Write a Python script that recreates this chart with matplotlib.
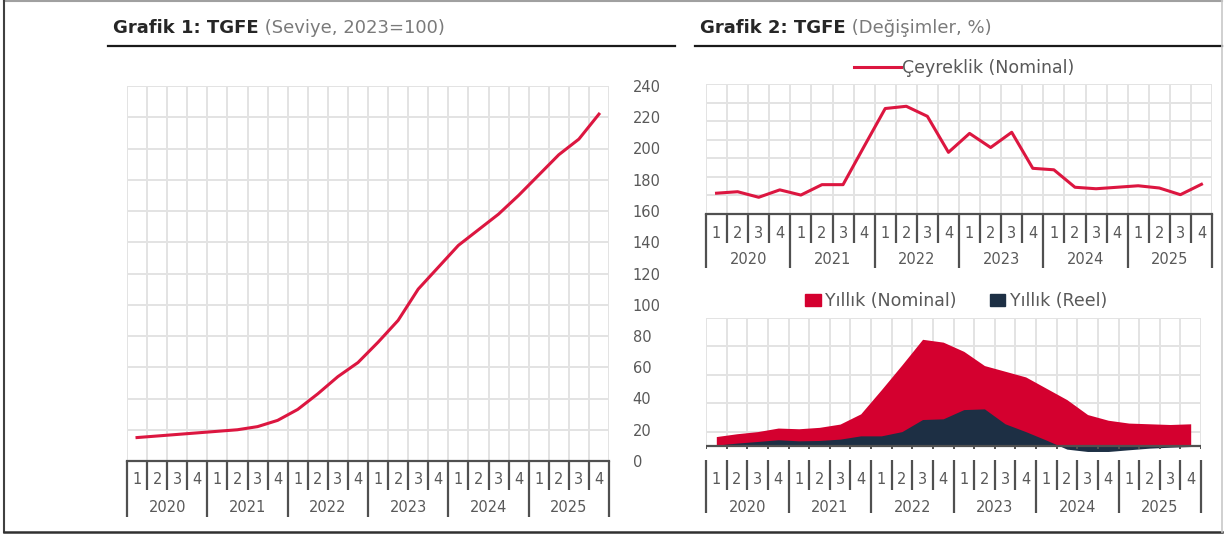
import numpy as np
import matplotlib
matplotlib.use("Agg")
import matplotlib.pyplot as plt
from matplotlib.lines import Line2D
from matplotlib.patches import Patch
from matplotlib.transforms import blended_transform_factory

plt.rcParams['font.family'] = ['DejaVu Sans']

# --- data ---
years = ['2020', '2021', '2022', '2023', '2024', '2025']
quarters = ['1', '2', '3', '4'] * len(years)

# TGFE level (2023=100)
level = [15, 16, 17, 18, 19, 20, 22, 26,
         33, 43, 54, 63, 76, 90, 110, 124,
         138, 148, 158, 170, 183, 196, 206, 222]

# quarterly change, nominal (%)
qoq_nominal = [5.6, 6.0, 4.5, 6.5, 5.1, 7.9, 7.9, 18.2,
               28.4, 29.0, 26.3, 16.6, 21.7, 17.9, 22.0, 12.3,
               11.9, 7.2, 6.8, 7.2, 7.6, 7.0, 5.2, 8.0]

# annual change (%)
yoy_nominal = [13, 17, 20, 25, 24, 26, 30.6, 45,
               79, 114, 150, 146, 133, 113, 105, 97,
               81, 65, 44, 36, 32, 31, 30, 31]
yoy_real = [1, 3.8, 6.1, 8.5, 7, 7.5, 9.4, 14,
            14, 20, 37, 38, 51, 52, 31, 20,
            8, -4.7, -8, -8, -5.6, -3.3, -2, -1]

W, H = 1225, 536
RED_LINE = '#dc1640'
RED = '#d4002f'
NAVY = '#1d2f44'
GRID = '#e3e3e3'
AXC = '#505050'
TXT = '#595959'
FS = 10.5

fig = plt.figure(figsize=(W / 100, H / 100), dpi=100)


def fx(px):
    return px / W


def fy(py):
    return 1 - py / H


def axes_box(x0, x1, ytop, ybot):
    return [fx(x0), fy(ybot), fx(x1) - fx(x0), fy(ytop) - fy(ybot)]


def category_axis(ax, y_start, q_end, y_end, q_lab, y_lab, fs=FS):
    tr = blended_transform_factory(ax.transData, fig.transFigure)
    n = len(quarters)
    for k in range(n + 1):
        xb = k - 0.5
        bottom = y_end if k % 4 == 0 else q_end
        ax.plot([xb, xb], [fy(y_start), fy(bottom)], transform=tr,
                color=AXC, lw=1.6, clip_on=False, solid_capstyle='butt')
    for i, q in enumerate(quarters):
        ax.text(i, fy(q_lab), q, transform=tr, ha='center', va='center',
                fontsize=fs, color=TXT)
    for j, yr in enumerate(years):
        ax.text(4 * j + 1.5, fy(y_lab), yr, transform=tr, ha='center',
                va='center', fontsize=fs, color=TXT)


def grid_cells(ax, ymin, ymax, hlines):
    n = len(quarters)
    ax.vlines(np.arange(n + 1) - 0.5, ymin, ymax, color=GRID, lw=1.4, zorder=0)
    ax.hlines(hlines, -0.5, n - 0.5, color=GRID, lw=1.4, zorder=0)


x = np.arange(len(quarters))

# --- Grafik 1 ---
ax1 = fig.add_axes(axes_box(127, 609, 86, 461))
grid_cells(ax1, 0, 240, np.arange(20, 241, 20))
ax1.plot(x, level, color=RED_LINE, lw=2.2, zorder=3)
ax1.set_xlim(-0.5, 23.5)
ax1.set_ylim(0, 240)
ax1.set_yticks(np.arange(0, 241, 20))
ax1.yaxis.tick_right()
ax1.tick_params(axis='y', length=0, pad=17, labelsize=FS, labelcolor=TXT)
ax1.set_xticks([])
for s in ['top', 'left', 'right']:
    ax1.spines[s].set_visible(False)
ax1.spines['bottom'].set_color(AXC)
ax1.spines['bottom'].set_linewidth(1.6)
category_axis(ax1, 461, 490, 517, 480, 507)

# --- Grafik 2, quarterly ---
ax2 = fig.add_axes(axes_box(706, 1212, 84, 214))
grid_cells(ax2, 0, 35, np.arange(5, 36, 5))
ax2.plot(x, qoq_nominal, color=RED_LINE, lw=2.2, zorder=3,
         label='Çeyreklik (Nominal)')
ax2.set_xlim(-0.5, 23.5)
ax2.set_ylim(0, 35)
ax2.set_xticks([])
ax2.set_yticks([])
for s in ['top', 'left', 'right']:
    ax2.spines[s].set_visible(False)
ax2.spines['bottom'].set_color(AXC)
ax2.spines['bottom'].set_linewidth(1.6)
category_axis(ax2, 214, 243, 268, 233, 260)
ax2.legend(loc='lower center', bbox_to_anchor=(0.51, 1.0), frameon=False,
           fontsize=12.5, handlelength=2.7, handletextpad=0.1,
           borderaxespad=0.0, labelcolor=TXT)

# --- Grafik 2, annual ---
ax3 = fig.add_axes(axes_box(706, 1201, 318, 460))
ax3.vlines(np.arange(len(quarters) + 1) - 0.5, 0, 180, color=GRID, lw=1.4,
           zorder=0)
ax3.hlines(np.arange(20, 181, 40), -0.5, 23.5, color=GRID, lw=1.4, zorder=0)
ax3.fill_between(x, 0, yoy_nominal, color=RED, lw=0, zorder=2)
ax3.fill_between(x, 0, yoy_real, color=NAVY, lw=0, zorder=3)
ax3.axhline(0, color=AXC, lw=1.6, zorder=4)
ax3.vlines(np.arange(len(quarters) + 1) - 0.5, -4, 0, color=AXC, lw=1.4,
           zorder=4)
ax3.set_xlim(-0.5, 23.5)
ax3.set_ylim(-20, 180)
ax3.set_xticks([])
ax3.set_yticks([])
for s in ax3.spines.values():
    s.set_visible(False)
category_axis(ax3, 460, 490, 513, 480, 507)
handles = [Patch(color=RED, label='Yıllık (Nominal)'),
           Patch(color=NAVY, label='Yıllık (Reel)')]
ax3.legend(handles=handles, loc='lower center', bbox_to_anchor=(0.505, 1.0),
           ncol=2, frameon=False, fontsize=12.5, handlelength=0.9,
           handleheight=0.75, handletextpad=0.25, columnspacing=1.9,
           borderaxespad=0.05, labelcolor=TXT)

# --- titles ---
t1 = fig.text(fx(113), fy(28), 'Grafik 1: TGFE', fontsize=13,
              fontweight='bold', color='#262626', va='center')
ax1.annotate(' (Seviye, 2023=100)', xy=(1, 0.5), xycoords=t1,
             va='center', ha='left', fontsize=13, color='#7a7a7a',
             annotation_clip=False)
t2 = fig.text(fx(700), fy(28), 'Grafik 2: TGFE', fontsize=13,
              fontweight='bold', color='#262626', va='center')
ax2.annotate(' (Değişimler, %)', xy=(1, 0.5), xycoords=t2,
             va='center', ha='left', fontsize=13, color='#7a7a7a',
             annotation_clip=False)

# title underlines and outer frame
fig.add_artist(Line2D([fx(108), fx(675)], [fy(46), fy(46)], color='#1a1a1a', lw=1.6))
fig.add_artist(Line2D([fx(695), fx(1222)], [fy(46), fy(46)], color='#1a1a1a', lw=1.6))
fig.add_artist(Line2D([fx(4), fx(1222)], [fy(0.6), fy(0.6)], color='#a0a0a0', lw=1.5))
fig.add_artist(Line2D([fx(4), fx(4)], [fy(0), fy(532)], color='#404040', lw=1.5))
fig.add_artist(Line2D([fx(4), fx(1222)], [fy(532), fy(532)], color='#303030', lw=1.8))
fig.add_artist(Line2D([fx(1222), fx(1222)], [fy(0), fy(532)], color='#c8c8c8', lw=1.2))

fig.savefig('out.png', dpi=100)
